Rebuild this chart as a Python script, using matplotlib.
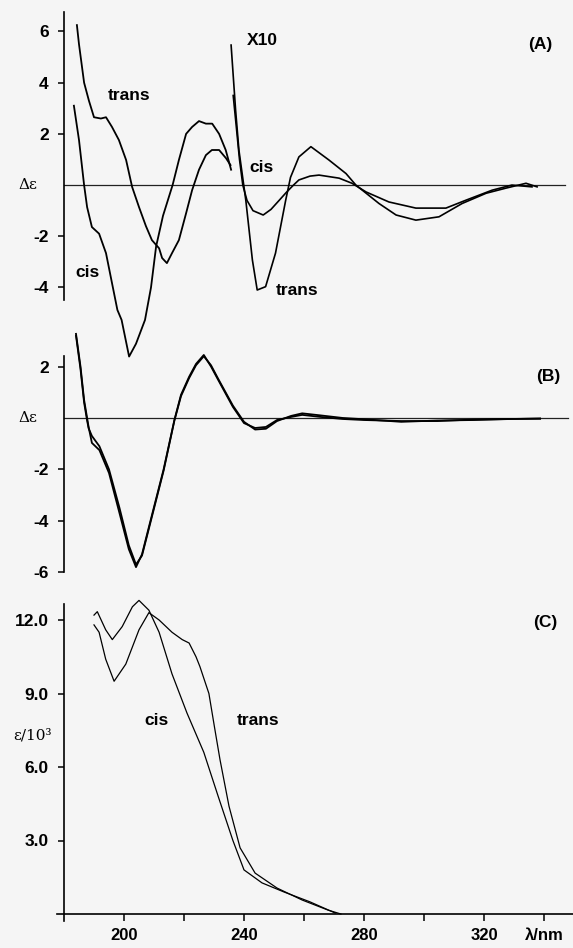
import matplotlib
matplotlib.use("Agg")
import matplotlib.pyplot as plt

plt.rcParams['font.family'] = ['Liberation Sans', 'DejaVu Sans']

# ---- panel A : CD, normal scale (< 236 nm) ----
a_trans_nm = [184.3, 185, 186.7, 188.3, 190, 192.3, 194, 196, 198.3, 200.7, 202.7, 205, 207.3, 209.3,
              211.7, 212.7, 214.3, 216, 218.3, 220.7, 222.7, 225, 227.3, 229.3, 231.7, 234, 235.5]
a_trans = [6.25, 5.5, 4.0, 3.3, 2.65, 2.6, 2.65, 2.27, 1.76, 0.98, -0.07, -0.86, -1.6, -2.15,
           -2.47, -2.85, -3.05, -2.66, -2.15, -1.1, -0.2, 0.6, 1.17, 1.37, 1.37, 1.05, 0.78]
a_cis_nm = [183.3, 185, 186.7, 187.7, 189.3, 191.7, 194, 196, 197.8, 199.2, 201.7, 204, 207, 209,
            210.7, 213, 216.2, 218.3, 220.7, 222.7, 225, 227.3, 229.4, 231.7, 233.9, 235.7]
a_cis = [3.1, 1.76, 0.0, -0.86, -1.64, -1.9, -2.66, -3.83, -4.88, -5.27, -6.7, -6.2, -5.27, -4.0,
         -2.4, -1.2, 0.0, 0.98, 2.0, 2.27, 2.5, 2.4, 2.4, 2.0, 1.37, 0.6]

# ---- panel A : CD, X10 part ----
a10_trans_nm = [235.7, 237.2, 238.3, 240.6, 242.8, 244.4, 247.2, 250.5, 253.9, 255.5, 258.3, 262.3,
                268.3, 274, 277.3, 285, 290.7, 297.3, 305, 312.7, 320.7, 327.3, 334, 337.7]
a10_trans = [5.47, 2.93, 1.37, -0.59, -2.93, -4.1, -3.97, -2.66, -0.59, 0.3, 1.1, 1.5,
             0.98, 0.45, 0.0, -0.72, -1.17, -1.37, -1.24, -0.72, -0.32, -0.12, 0.07, -0.07]
a10_cis_nm = [236.4, 237.5, 238.5, 239.6, 241, 243, 246.4, 249, 251.7, 254, 256.5, 258.3, 262, 265,
              271.7, 276, 280.7, 288.3, 297.3, 307.3, 314, 322.7, 329.3, 336]
a10_cis = [3.5, 2.2, 1.0, 0.0, -0.6, -1.0, -1.17, -0.95, -0.6, -0.3, 0.0, 0.2, 0.35, 0.39,
           0.27, 0.07, -0.27, -0.66, -0.9, -0.9, -0.59, -0.2, 0.0, -0.07]

# ---- panel B : CD of the two samples ----
b_nm = [184, 185.5, 186.7, 187.7, 188.2, 189.3, 191.8, 195, 198.5, 201.6, 204, 206, 208.3, 213.2,
        216.8, 219, 221.7, 224, 226.6, 229, 231.4, 236.3, 240, 243.7, 247.3, 251, 255.7, 259.4,
        265.5, 272.9, 280, 292.4, 304.5, 316.7, 329, 338.7]
b_one = [3.27, 2.0, 0.7, 0.0, -0.35, -0.97, -1.25, -2.14, -3.7, -5.1, -5.8, -5.3, -4.24, -2.0,
         -0.08, 0.9, 1.6, 2.1, 2.45, 2.0, 1.48, 0.43, -0.2, -0.39, -0.35, -0.08, 0.04, 0.12,
         0.04, -0.04, -0.08, -0.12, -0.12, -0.06, -0.04, -0.02]
b_two = [3.2, 1.9, 0.6, -0.1, -0.4, -0.7, -1.1, -2.0, -3.5, -4.95, -5.7, -5.35, -4.3, -2.05,
         -0.1, 0.85, 1.55, 2.05, 2.4, 2.05, 1.52, 0.48, -0.15, -0.45, -0.42, -0.12, 0.08, 0.18,
         0.1, 0.0, -0.05, -0.15, -0.1, -0.08, -0.04, -0.03]

# ---- panel C : UV absorption ----
c_cis_nm = [190, 191.1, 193.9, 196.1, 199.4, 202.8, 205, 208.3, 211.7, 216, 221, 226.6, 231.4,
            236.3, 240, 246, 253.3, 261.9, 270.4]
c_cis = [12.2, 12.34, 11.6, 11.2, 11.73, 12.54, 12.8, 12.4, 11.5, 9.8, 8.2, 6.6, 4.8,
         3.0, 1.8, 1.27, 0.9, 0.5, 0.04]
c_trans_nm = [190, 191.7, 193.9, 196.7, 200.6, 205, 208.3, 211.7, 216, 219.4, 221.7, 224, 225.3,
              228.3, 230.2, 232, 235, 238.7, 243.7, 251, 259.4, 268, 272.3]
c_trans = [11.8, 11.5, 10.4, 9.5, 10.2, 11.6, 12.3, 12.0, 11.5, 11.2, 11.06, 10.5, 10.1,
           9.0, 7.6, 6.3, 4.4, 2.7, 1.67, 1.06, 0.57, 0.16, 0.0]

x_ticks = [200, 220, 240, 260, 280, 300, 320, 340]
x_labels = ['200', '', '240', '', '280', '', '320', 'λ/nm']

W, H = 573, 948
XMIN, XMAX = 177, 350
bg = '#f5f5f5'

fig = plt.figure(figsize=(W / 100, H / 100), dpi=100, facecolor=bg)


def panel(top, bottom, ylim):
    ax = fig.add_axes([55 / W, 1 - bottom / H, 519 / W, (bottom - top) / H])
    ax.set_facecolor('none')
    ax.set_xlim(XMIN, XMAX)
    ax.set_ylim(*ylim)
    for s in ['top', 'right', 'bottom']:
        ax.spines[s].set_visible(False)
    ax.spines['left'].set_position(('data', 180))
    ax.spines['left'].set_linewidth(1.2)
    ax.tick_params(axis='y', direction='out', length=4, width=1.1, pad=7, labelsize=12.5)
    ax.tick_params(axis='x', bottom=False, labelbottom=False)
    return ax


def zero_line(ax, x_end):
    ax.axhline(0, xmin=(180 - XMIN) / (XMAX - XMIN), xmax=(x_end - XMIN) / (XMAX - XMIN),
               color='#222222', lw=0.9)


def label_axis(ax, txt, y, dx=-26):
    ax.annotate(txt, xy=(180, y), xytext=(dx, 0), textcoords='offset points',
                ha='center', va='center', fontsize=11, family='DejaVu Serif')


def word(ax, x, y, s):
    ax.text(x, y, s, ha='center', va='center', fontsize=12.5, fontweight='bold')


# ----- (A) -----
axA = panel(10, 365, (-7.03, 6.84))
axA.spines['left'].set_bounds(-4.5, 6.75)
axA.set_yticks([-4, -2, 2, 4, 6])
axA.set_yticklabels(['-4', '-2', '2', '4', '6'], fontweight='bold')
zero_line(axA, 347)
axA.plot(a_trans_nm, a_trans, color='black', lw=1.3)
axA.plot(a_cis_nm, a_cis, color='black', lw=1.3)
axA.plot(a10_trans_nm, a10_trans, color='black', lw=1.2)
axA.plot(a10_cis_nm, a10_cis, color='black', lw=1.2)
label_axis(axA, 'Δε', 0)
word(axA, 201.8, 3.5, 'trans')
word(axA, 188.0, -3.4, 'cis')
word(axA, 246.0, 5.63, 'X10')
word(axA, 246.0, 0.7, 'cis')
word(axA, 257.7, -4.1, 'trans')
word(axA, 338.7, 5.5, '(A)')

# ----- (B) -----
axB = panel(330, 580, (-6.3, 3.42))
axB.spines['left'].set_bounds(-6, 2.4)
axB.set_yticks([-6, -4, -2, 2])
axB.set_yticklabels(['-6', '-4', '-2', '2'], fontweight='bold')
zero_line(axB, 348)
axB.plot(b_nm, b_one, color='black', lw=1.3)
axB.plot(b_nm, b_two, color='black', lw=1.3)
label_axis(axB, 'Δε', 0)
word(axB, 341.3, 1.6, '(B)')

# ----- (C) -----
axC = panel(595, 922, (-8 / 24.5, 319 / 24.5))
axC.spines['left'].set_bounds(-0.3, 12.65)
axC.spines['bottom'].set_visible(True)
axC.spines['bottom'].set_position(('data', 0))
axC.spines['bottom'].set_bounds(177.5, XMAX)
axC.spines['bottom'].set_linewidth(1.2)
axC.set_yticks([3, 6, 9, 12])
axC.set_yticklabels(['3.0', '6.0', '9.0', '12.0'], fontweight='bold')
axC.set_xticks(x_ticks)
axC.set_xticklabels(x_labels, fontweight='bold')
axC.tick_params(axis='x', bottom=True, labelbottom=True, direction='out', length=5,
                width=1.1, pad=5, labelsize=12)
axC.plot(c_cis_nm, c_cis, color='black', lw=0.9)
axC.plot(c_trans_nm, c_trans, color='black', lw=0.9)
label_axis(axC, 'ε/10³', 7.3, dx=-23)
word(axC, 210.7, 7.9, 'cis')
word(axC, 244.8, 7.9, 'trans')
word(axC, 340.3, 11.9, '(C)')

fig.savefig('out.png', dpi=100, facecolor=bg)
